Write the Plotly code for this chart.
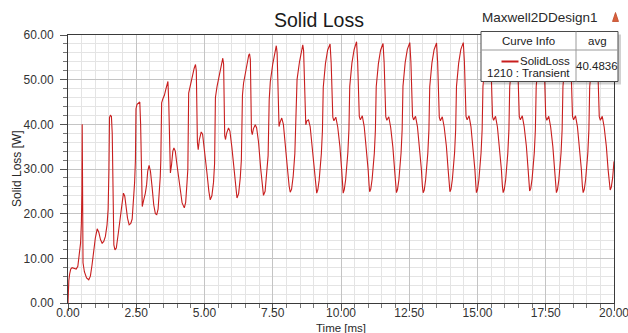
import plotly.graph_objects as go

# ---------------- data ----------------
time_ms = [
    0.00, 0.01, 0.03, 0.06, 0.10, 0.15, 0.22, 0.30, 0.36, 0.40, 0.46, 0.49, 0.51, 0.52, 0.53, 0.55,
    0.60, 0.68, 0.76, 0.82, 0.88, 0.94, 1.00, 1.07, 1.13, 1.19, 1.25, 1.31, 1.37, 1.43, 1.47, 1.50,
    1.52, 1.55, 1.59, 1.62, 1.65, 1.68, 1.72, 1.77, 1.84, 1.92, 1.98, 2.03, 2.08, 2.13, 2.18, 2.24,
    2.30, 2.35, 2.40, 2.44, 2.47, 2.49, 2.53, 2.58, 2.63, 2.66, 2.69, 2.72, 2.77, 2.83, 2.88, 2.92,
    2.97, 3.02, 3.08, 3.14, 3.20, 3.25, 3.30, 3.34, 3.38, 3.40, 3.43, 3.48, 3.53, 3.59, 3.63, 3.66,
    3.69, 3.72, 3.75, 3.79, 3.84, 3.88, 3.93, 3.99, 4.06, 4.12, 4.18,
    4.26, 4.31, 4.36, 4.39, 4.42, 4.47, 4.55, 4.62, 4.67, 4.70, 4.74, 4.77, 4.81, 4.88, 4.93, 5.00, 5.09, 5.16,
    5.21, 5.27, 5.33, 5.37, 5.40, 5.46, 5.56, 5.64, 5.67, 5.70, 5.74, 5.77, 5.81, 5.88, 5.93, 6.00, 6.08, 6.14,
    6.19, 6.25, 6.31, 6.35, 6.39, 6.43, 6.53, 6.62, 6.65, 6.68, 6.72, 6.75, 6.79, 6.86, 6.91, 6.98, 7.06, 7.12,
    7.16, 7.22, 7.28, 7.33, 7.37, 7.41, 7.50, 7.59, 7.63, 7.66, 7.70, 7.73, 7.77, 7.83, 7.89, 7.96, 8.04, 8.10,
    8.14, 8.19, 8.25, 8.31, 8.35, 8.39, 8.48, 8.56, 8.60, 8.63, 8.68, 8.71, 8.75, 8.81, 8.87, 8.94, 9.02, 9.08,
    9.11, 9.15, 9.20, 9.28, 9.32, 9.35, 9.43, 9.51, 9.60, 9.64, 9.70, 9.74, 9.81, 9.88, 9.96, 10.025, 10.06,
    10.08, 10.12, 10.17, 10.25, 10.29, 10.32, 10.40, 10.48, 10.57, 10.61, 10.67, 10.71, 10.78, 10.85, 10.93, 10.995, 11.03,
    11.05, 11.09, 11.14, 11.22, 11.26, 11.29, 11.37, 11.45, 11.54, 11.58, 11.64, 11.68, 11.75, 11.82, 11.90, 11.965, 12.00,
    12.03, 12.07, 12.12, 12.20, 12.24, 12.27, 12.35, 12.43, 12.52, 12.56, 12.62, 12.66, 12.73, 12.80, 12.88, 12.945, 12.98,
    13.01, 13.05, 13.10, 13.18, 13.22, 13.25, 13.33, 13.41, 13.50, 13.54, 13.60, 13.64, 13.71, 13.78, 13.86, 13.925, 13.96,
    13.99, 14.03, 14.08, 14.16, 14.20, 14.23, 14.31, 14.39, 14.48, 14.52, 14.58, 14.62, 14.69, 14.76, 14.84, 14.905, 14.94,
    14.96, 15.00, 15.05, 15.13, 15.17, 15.20, 15.28, 15.36, 15.45, 15.49, 15.55, 15.59, 15.66, 15.73, 15.81, 15.875, 15.91,
    15.94, 15.98, 16.03, 16.11, 16.15, 16.18, 16.26, 16.34, 16.43, 16.47, 16.53, 16.57, 16.64, 16.71, 16.79, 16.855, 16.89,
    16.91, 16.95, 17.00, 17.08, 17.12, 17.15, 17.23, 17.31, 17.40, 17.44, 17.50, 17.54, 17.61, 17.68, 17.76, 17.825, 17.86,
    17.89, 17.93, 17.98, 18.06, 18.10, 18.13, 18.21, 18.29, 18.38, 18.42, 18.48, 18.52, 18.59, 18.66, 18.74, 18.805, 18.84,
    18.87, 18.91, 18.96, 19.04, 19.08, 19.11, 19.19, 19.27, 19.36, 19.40, 19.46, 19.50, 19.57, 19.64, 19.72, 19.785, 19.82,
    19.86, 19.90, 19.95, 20.00,
]

solid_loss_w = [
    0.0, 3.5, 5.0, 6.5, 7.6, 7.9, 7.8, 7.6, 8.2, 10.4, 13.4, 17.9, 25.0, 40.0, 18.0, 9.0,
    7.0, 5.6, 5.2, 6.0, 8.5, 11.9, 14.5, 16.6, 15.8, 14.2, 13.4, 13.8, 14.9, 17.5, 21.0, 30.0,
    41.5, 42.0, 41.8, 38.0, 22.0, 13.0, 11.9, 12.3, 15.5, 19.5, 23.0, 24.6, 23.9, 21.0, 19.0, 17.5,
    17.8, 18.8, 22.5, 27.0, 32.0, 43.5, 44.5, 44.8, 45.0, 40.0, 26.0, 21.6, 23.0, 24.5, 26.5, 29.5,
    30.8, 29.5, 26.0, 22.0, 20.0, 19.8, 21.0, 24.0, 28.3, 32.0, 44.8, 45.8, 46.5, 48.0, 49.3, 49.6,
    45.0, 30.5, 29.1, 30.8, 34.0, 34.7, 34.0, 31.0, 27.6, 24.5, 22.4,
    21.3, 22.5, 27.0, 30.0, 47.0, 48.5, 50.5, 52.5, 53.4, 52.0, 36.0, 34.3, 36.5, 38.3, 37.8, 34.5, 29.1, 25.0,
    23.1, 24.0, 27.0, 31.3, 46.0, 48.5, 51.8, 54.5, 54.8, 53.5, 37.5, 36.6, 38.0, 39.2, 38.5, 35.0, 29.5, 25.5,
    23.5, 24.5, 28.0, 32.0, 46.5, 49.2, 52.8, 55.5, 55.8, 54.5, 38.5, 37.7, 39.0, 39.9, 39.2, 36.0, 30.0, 26.0,
    24.1, 25.0, 28.5, 33.0, 45.5, 49.5, 53.5, 57.0, 57.6, 56.0, 41.0, 39.5, 40.5, 41.4, 40.0, 36.0, 30.0, 26.2,
    24.8, 25.5, 28.5, 33.5, 46.0, 50.0, 54.0, 57.0, 57.8, 56.5, 41.5, 39.9, 40.8, 41.0, 39.5, 35.5, 30.0, 26.0,
    24.6, 25.3, 27.5, 33.4, 38.6, 48.3, 53.6, 56.6, 58.0, 53.8, 41.6, 40.8, 41.6, 39.4, 35.0, 29.8, 26.4,
    24.6, 25.4, 27.6, 33.6, 38.8, 48.5, 53.7, 56.7, 58.5, 54.0, 41.8, 41.0, 41.9, 39.5, 35.0, 29.8, 26.3,
    24.9, 25.5, 27.7, 33.5, 38.7, 48.4, 53.6, 56.6, 58.1, 53.9, 41.7, 40.9, 41.7, 39.3, 34.9, 29.7, 26.4,
    24.7, 25.4, 27.6, 33.6, 38.8, 48.5, 53.8, 56.8, 58.3, 54.0, 41.8, 41.0, 41.8, 39.5, 35.0, 29.9, 26.3,
    24.7, 25.3, 27.6, 33.5, 38.7, 48.4, 53.7, 56.7, 58.2, 53.9, 41.6, 40.8, 41.7, 39.4, 35.1, 29.8, 26.4,
    24.9, 25.5, 27.7, 33.6, 38.8, 48.5, 53.7, 56.8, 58.3, 54.0, 41.8, 41.0, 41.9, 39.5, 35.0, 29.8, 26.3,
    24.7, 25.4, 27.6, 33.6, 38.8, 48.5, 53.7, 56.7, 58.2, 54.0, 41.7, 40.9, 41.8, 39.4, 35.0, 29.9, 26.4,
    24.7, 25.4, 27.5, 33.5, 38.7, 48.4, 53.6, 56.7, 58.3, 53.9, 41.8, 41.0, 41.9, 39.5, 35.1, 29.8, 26.3,
    25.1, 25.6, 27.8, 33.6, 38.8, 48.5, 53.7, 56.8, 58.2, 54.0, 41.7, 40.9, 41.8, 39.4, 35.0, 29.8, 26.4,
    24.7, 25.4, 27.6, 33.6, 38.8, 48.5, 53.8, 56.7, 58.3, 54.0, 41.8, 41.0, 41.9, 39.5, 35.0, 29.9, 26.3,
    24.7, 25.4, 27.6, 33.5, 38.7, 48.4, 53.7, 56.7, 58.2, 53.9, 41.7, 40.9, 41.8, 39.4, 35.0, 29.8, 26.5,
    25.3, 25.9, 28.0, 31.7,
]

x_tick_vals = [0, 2.5, 5, 7.5, 10, 12.5, 15, 17.5, 20]
x_tick_text = ["0.00", "2.50", "5.00", "7.50", "10.00", "12.50", "15.00", "17.50", "20.00"]
y_tick_vals = [0, 10, 20, 30, 40, 50, 60]
y_tick_text = ["0.00", "10.00", "20.00", "30.00", "40.00", "50.00", "60.00"]

chart_title = "Solid Loss"
design_name = "Maxwell2DDesign1"
x_title = "Time [ms]"
y_title = "Solid Loss [W]"
legend_header = ["Curve Info", "avg"]
legend_curve = ["SolidLoss", "1210 : Transient"]
legend_avg = "40.4836"

# ---------------- layout geometry (pixels) ----------------
W, H = 628, 333
L, R, T, B = 68, 614, 35, 303   # plot area edges in pixels
FONT = "Liberation Sans, Arial, sans-serif"
LINE_RED = "#c81e1e"


def px(x):
    return (x - L) / (R - L)


def py(y):
    return (B - y) / (B - T)


fig = go.Figure()
fig.add_trace(go.Scatter(
    x=time_ms, y=solid_loss_w, mode="lines",
    line=dict(color=LINE_RED, width=1.1),
    hoverinfo="skip", showlegend=False,
))

axis_common = dict(
    showline=True, linecolor="#3a3a3a", linewidth=1, mirror=True,
    ticks="outside", tickcolor="#555555", ticklen=7, tickwidth=1,
    showgrid=True, gridcolor="#c4c4c4", gridwidth=1, zeroline=False,
    tickfont=dict(family=FONT, size=12, color="#333333"),
    automargin=False, ticklabeloverflow="allow",
)

fig.update_layout(
    width=W, height=H,
    margin=dict(l=L, r=W - R, t=T, b=H - B, pad=0),
    paper_bgcolor="white", plot_bgcolor="white",
    xaxis=dict(range=[0, 20], tickvals=x_tick_vals, ticktext=x_tick_text,
               ticklabelstandoff=-8,
               minor=dict(dtick=0.5, tick0=0, showgrid=True, gridcolor="#e4e4e4",
                          ticks="outside", ticklen=4, tickcolor="#777777"),
               **axis_common),
    yaxis=dict(range=[0, 60], tickvals=y_tick_vals, ticktext=y_tick_text,
               ticklabelstandoff=4,
               minor=dict(dtick=2, tick0=0, showgrid=True, gridcolor="#e4e4e4",
                          ticks="outside", ticklen=4, tickcolor="#777777"),
               **axis_common),
    showlegend=False,
)

shapes = []
annotations = []

# chart title / design name / axis titles
annotations.append(dict(text=chart_title, x=px(319), y=py(20), xref="paper", yref="paper",
                        showarrow=False, font=dict(family=FONT, size=19.5, color="#1a1a1a"),
                        xanchor="center", yanchor="middle"))
annotations.append(dict(text=design_name, x=px(480), y=py(18), xref="paper", yref="paper",
                        showarrow=False, font=dict(family=FONT, size=13.5, color="#2a2a2a"),
                        xanchor="left", yanchor="middle"))
annotations.append(dict(text=x_title, x=px(341), y=py(327.5), xref="paper", yref="paper",
                        showarrow=False, font=dict(family=FONT, size=11.5, color="#2a2a2a"),
                        xanchor="center", yanchor="middle"))
annotations.append(dict(text=y_title, x=px(17), y=py(169), xref="paper", yref="paper",
                        showarrow=False, textangle=-90,
                        font=dict(family=FONT, size=12, color="#2a2a2a"),
                        xanchor="center", yanchor="middle"))

# small logo glyph near the design name
shapes.append(dict(type="path", xref="paper", yref="paper",
                   path=f"M {px(612.5)} {py(21.5)} L {px(615.5)} {py(12.5)} L {px(618.5)} {py(21.5)} Z",
                   fillcolor="#d8603c", line=dict(color="#c04a2a", width=0.8), layer="above"))

# legend / curve info box
bx0, bx1, by0, by1 = 481, 618, 31.5, 81.5
shapes.append(dict(type="rect", xref="paper", yref="paper",
                   x0=px(bx0 + 3), x1=px(bx1 + 3), y0=py(by1 + 3), y1=py(by0 + 3),
                   fillcolor="rgba(0,0,0,0.18)", line=dict(width=0), layer="above"))
shapes.append(dict(type="rect", xref="paper", yref="paper",
                   x0=px(bx0), x1=px(bx1), y0=py(by1), y1=py(by0),
                   fillcolor="white", line=dict(color="#4a4a4a", width=1), layer="above"))
shapes.append(dict(type="line", xref="paper", yref="paper",
                   x0=px(bx0), x1=px(bx1), y0=py(50), y1=py(50),
                   line=dict(color="#9a9a9a", width=1), layer="above"))
shapes.append(dict(type="line", xref="paper", yref="paper",
                   x0=px(576), x1=px(576), y0=py(by1), y1=py(by0),
                   line=dict(color="#9a9a9a", width=1), layer="above"))
shapes.append(dict(type="line", xref="paper", yref="paper",
                   x0=px(501.5), x1=px(518.5), y0=py(61.5), y1=py(61.5),
                   line=dict(color=LINE_RED, width=2), layer="above"))

LEG_FONT = dict(family=FONT, size=11.5, color="#222222")
annotations.append(dict(text=legend_header[0], x=px(528.5), y=py(41), xref="paper", yref="paper",
                        showarrow=False, font=LEG_FONT, xanchor="center", yanchor="middle"))
annotations.append(dict(text=legend_header[1], x=px(597), y=py(41), xref="paper", yref="paper",
                        showarrow=False, font=LEG_FONT, xanchor="center", yanchor="middle"))
annotations.append(dict(text=legend_curve[0], x=px(572), y=py(61), xref="paper", yref="paper",
                        showarrow=False, font=LEG_FONT, xanchor="right", yanchor="middle"))
annotations.append(dict(text=legend_curve[1], x=px(572), y=py(73), xref="paper", yref="paper",
                        showarrow=False, font=LEG_FONT, xanchor="right", yanchor="middle"))
annotations.append(dict(text=legend_avg, x=px(597), y=py(66), xref="paper", yref="paper",
                        showarrow=False, font=LEG_FONT, xanchor="center", yanchor="middle"))

fig.update_layout(shapes=shapes, annotations=annotations)

fig.write_html(
    "out.html",
    config={"displayModeBar": False, "staticPlot": True},
    post_script="document.body.style.margin='0';document.body.style.padding='0';"
                "document.body.style.overflow='hidden';",
)
